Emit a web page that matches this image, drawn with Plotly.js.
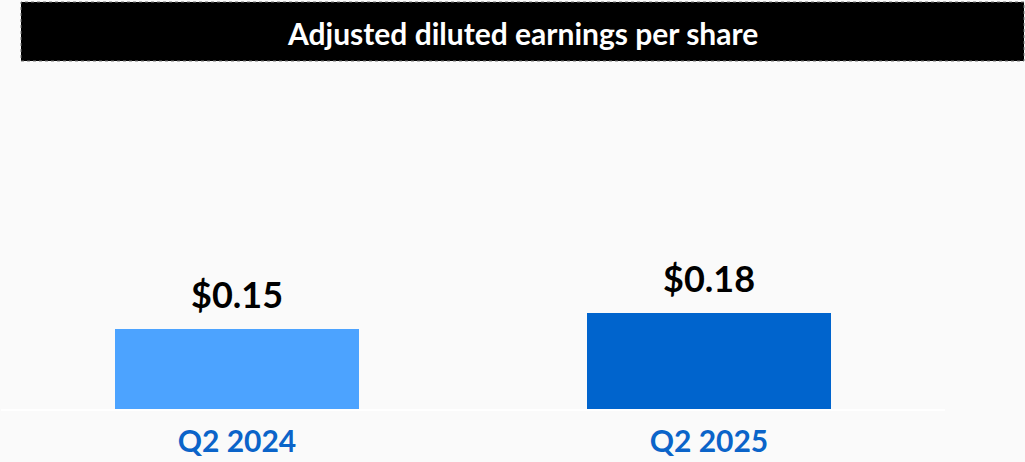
<!DOCTYPE html>
<html>
<head>
<meta charset="utf-8">
<script src="https://cdn.plot.ly/plotly-3.0.1.min.js"></script>
<style>
  html, body { margin: 0; padding: 0; background: #FAFAFA; }
  #chart { width: 1025px; height: 462px; }
</style>
</head>
<body>
<div id="chart"></div>
<script>
const chartTitle = "Adjusted diluted earnings per share";
const categories = ["Q2 2024", "Q2 2025"];
const epsValues = [0.15, 0.18];
const valueLabels = ["$0.15", "$0.18"];
const barColors = ["#4CA3FF", "#0064CD"];

const trace = {
  type: "bar",
  x: categories,
  y: epsValues,
  marker: { color: barColors, line: { width: 0 } },
  width: 0.517,
  hoverinfo: "skip"
};

const annotations = categories.map((c, i) => ({
  x: c, y: epsValues[i], xref: "x", yref: "y",
  text: valueLabels[i], showarrow: false,
  yanchor: "bottom", yshift: 11,
  font: { family: "Lato, 'Open Sans', sans-serif", size: 36, color: "#000000", weight: 700 }
}));

annotations.push({
  xref: "paper", yref: "paper",
  x: (522 - 1) / 944, y: (409 - 33) / 347,
  xanchor: "center", yanchor: "middle",
  text: "<b>" + chartTitle + "</b>", showarrow: false,
  font: { family: "Lato, 'Open Sans', sans-serif", size: 30, color: "#FFFFFF" }
});

const layout = {
  width: 1025, height: 462,
  margin: { l: 1, r: 80, t: 62, b: 53 },
  paper_bgcolor: "#FAFAFA",
  plot_bgcolor: "#FAFAFA",
  showlegend: false,
  bargap: 0,
  xaxis: {
    type: "category",
    range: [-0.5, 1.5],
    showgrid: false, zeroline: false,
    showline: true, linecolor: "#FFFFFF", linewidth: 2,
    ticks: "",
    ticklabelstandoff: 5,
    tickfont: { family: "Lato, 'Open Sans', sans-serif", size: 30, color: "#0B64C9", weight: 700 },
    fixedrange: true
  },
  yaxis: {
    range: [0, 0.651],
    showgrid: false, zeroline: false, showline: false,
    showticklabels: false, ticks: "",
    fixedrange: true
  },
  shapes: [{
    type: "rect", xref: "paper", yref: "paper",
    x0: (21 - 1) / 944, x1: (1024 - 1) / 944,
    y0: (409 - 61) / 347, y1: (409 - 2) / 347,
    fillcolor: "#000000",
    line: { color: "#777777", width: 1, dash: "dot" },
    layer: "above"
  }],
  annotations: annotations
};

Plotly.newPlot("chart", [trace], layout, { displayModeBar: false, staticPlot: true });
</script>
</body>
</html>
